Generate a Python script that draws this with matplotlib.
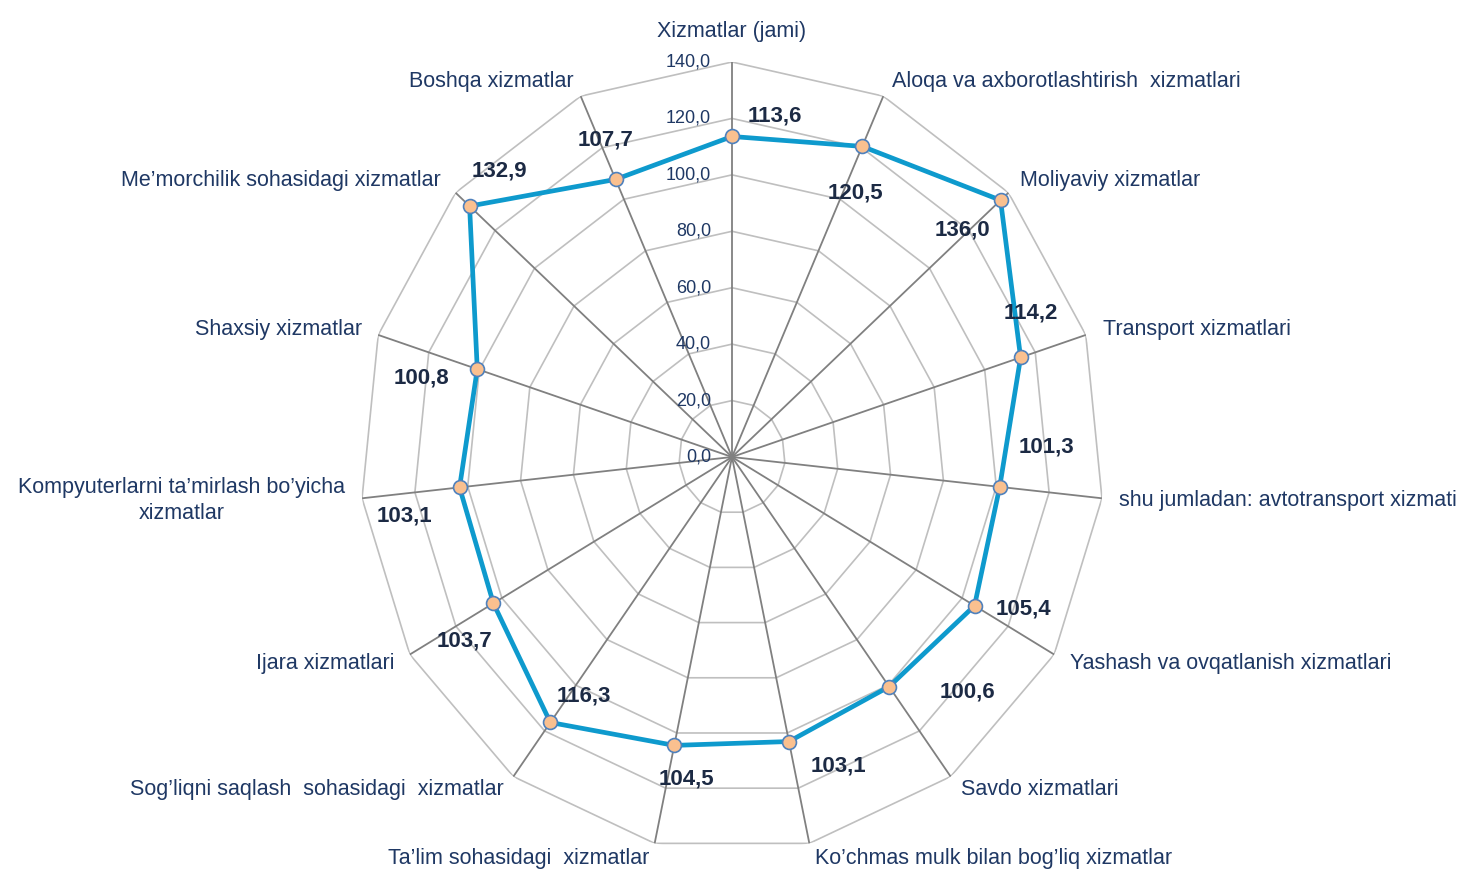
import matplotlib
matplotlib.use('Agg')
import matplotlib.pyplot as plt
import numpy as np

plt.rcParams['font.family'] = ['Liberation Sans', 'DejaVu Sans']

# data (clockwise from top)
categories = [
    'Xizmatlar (jami)',
    'Aloqa va axborotlashtirish  xizmatlari',
    'Moliyaviy xizmatlar',
    'Transport xizmatlari',
    'shu jumladan: avtotransport xizmati',
    'Yashash va ovqatlanish xizmatlari',
    'Savdo xizmatlari',
    'Ko’chmas mulk bilan bog’liq xizmatlar',
    'Ta’lim sohasidagi  xizmatlar',
    'Sog’liqni saqlash  sohasidagi  xizmatlar',
    'Ijara xizmatlari',
    'Kompyuterlarni ta’mirlash bo’yicha\nxizmatlar',
    'Shaxsiy xizmatlar',
    'Me’morchilik sohasidagi xizmatlar',
    'Boshqa xizmatlar',
]
values = [113.6, 120.5, 136.0, 114.2, 101.3, 105.4, 100.6, 103.1,
          104.5, 116.3, 103.7, 103.1, 100.8, 132.9, 107.7]
ticks = [0, 20, 40, 60, 80, 100, 120, 140]

# label placement (pixel offsets)
cat_offsets = [(0, 31), (9, 15), (12, 12), (17, 5), (17, -2), (16, -9), (10, -13),
               (6, -15), (-5, -15), (-10, -13), (-15, -9), (-17, -2), (-16, 5),
               (-15, 12), (-7, 15)]
val_offsets = [(43, 20), (-7, -47), (-38, -30), (10, 44), (47, 40), (49, -3),
               (78, -5), (49, -24), (12, -34), (33, 26), (-29, -38), (-55, -29),
               (-56, -9), (30, 35), (-10, 39)]

NAVY = '#1F3864'
DARK = '#1C2A44'
LINE = '#0E9ACD'

n = len(categories)
angles = np.arange(n) * 2 * np.pi / n
rmax = ticks[-1]

fig = plt.figure(figsize=(14.67, 8.71), dpi=100)
ax = fig.add_axes([360 / 1467, 19 / 871, 744 / 1467, 790 / 871], projection='polar')
ax.set_theta_offset(np.pi / 2)
ax.set_theta_direction(-1)
ax.set_aspect('auto')
ax.set_ylim(0, rmax)
ax.grid(False)
ax.set_xticks([])
ax.set_yticks([])
ax.spines['polar'].set_visible(False)
ax.patch.set_visible(False)

# polygon rings
closed = np.append(angles, angles[0])
for t in ticks[1:]:
    ax.plot(closed, [t] * (n + 1), color='#BFBFBF', lw=1.2, zorder=1)
# spokes
for a in angles:
    ax.plot([a, a], [0, rmax], color='#808080', lw=1.3, zorder=2)

# tick labels
for t in ticks:
    ax.annotate(f'{t:.1f}'.replace('.', ','), (0, t), xytext=(-21, 0),
                textcoords='offset pixels', ha='right', va='center',
                fontsize=13, color=NAVY)

# data line
vals_closed = values + [values[0]]
ax.plot(closed, vals_closed, color=LINE, lw=3.4, zorder=4)
ax.plot(angles, values, 'o', ms=10, mfc='#FAC08F', mec='#4F81BD', mew=1.2, zorder=5)

# value labels
for a, v, (dx, dy) in zip(angles, values, val_offsets):
    ax.annotate(f'{v:.1f}'.replace('.', ','), (a, v), xytext=(dx, dy),
                textcoords='offset pixels', ha='center', va='center',
                fontsize=16, fontweight='bold', color=DARK, zorder=6)

# category labels
for a, c, (dx, dy) in zip(angles, categories, cat_offsets):
    if dx == 0:
        ha = 'center'
    elif dx > 0:
        ha = 'left'
    else:
        ha = 'right'
    ax.annotate(c, (a, rmax), xytext=(dx, dy), textcoords='offset pixels',
                ha=ha, va='center', multialignment='center',
                fontsize=15.5, color=NAVY, linespacing=1.3, annotation_clip=False)

fig.savefig('out.png', dpi=100)
